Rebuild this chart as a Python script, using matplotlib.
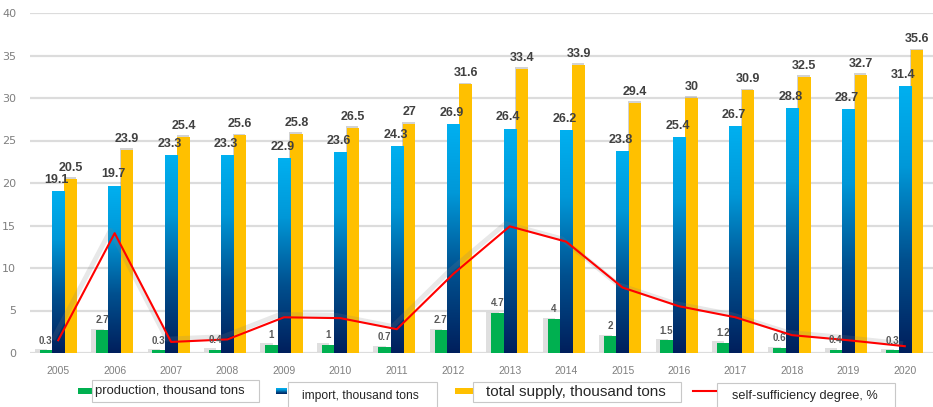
import numpy as np
import matplotlib
matplotlib.use("Agg")
import matplotlib.pyplot as plt
import matplotlib.patheffects as pe
from matplotlib.colors import LinearSegmentedColormap
from matplotlib.patches import Rectangle
from matplotlib.lines import Line2D

# ---- data ----
years = [str(y) for y in range(2005, 2021)]
production = [0.3, 2.7, 0.3, 0.4, 1, 1, 0.7, 2.7, 4.7, 4, 2, 1.5, 1.2, 0.6, 0.4, 0.3]
imports = [19.1, 19.7, 23.3, 23.3, 22.9, 23.6, 24.3, 26.9, 26.4, 26.2, 23.8, 25.4, 26.7, 28.8, 28.7, 31.4]
total_supply = [20.5, 23.9, 25.4, 25.6, 25.8, 26.5, 27, 31.6, 33.4, 33.9, 29.4, 30, 30.9, 32.5, 32.7, 35.6]
self_sufficiency = [1.5, 14.1, 1.3, 1.6, 4.2, 4.1, 2.8, 9.3, 14.9, 13.1, 7.7, 5.5, 4.2, 2.1, 1.5, 0.8]

legend_labels = ["production, thousand tons", "import, thousand tons",
                 "total supply, thousand tons", "self-sufficiency degree, %"]

GREEN = "#00B050"
GOLD = "#FFC000"
RED = "#FF0000"
LABEL_GRAY = "#404040"
TICK_GRAY = "#7F7F7F"
blue_cmap = LinearSegmentedColormap.from_list(
    "imp", [(0.0, "#001F5C"), (0.35, "#00508F"), (0.7, "#0098D8"), (1.0, "#00B0F0")])

W, H = 933, 407
fig = plt.figure(figsize=(W / 100, H / 100), dpi=100)
ax = fig.add_axes([30 / W, (H - 353) / H, 1 - 30 / W, (353 - 13) / H])

x = np.arange(len(years))
bw = 0.22

# gridlines
ax.set_yticks(np.arange(0, 41, 5))
ax.yaxis.grid(True, color="#DCDCDC", linewidth=1.6)
ax.set_axisbelow(True)
for s in ax.spines.values():
    s.set_visible(False)

shadow = [pe.SimplePatchShadow(offset=(-3.5, 1), shadow_rgbFace="#808080", alpha=0.25), pe.Normal()]
cap_shadow = [pe.SimplePatchShadow(offset=(-0.5, 1.2), shadow_rgbFace="#808080", alpha=0.35), pe.Normal()]

g_bars = ax.bar(x - bw, production, bw, color=GREEN, zorder=2, path_effects=shadow)
b_bars = ax.bar(x, imports, bw, color="none", zorder=2)
y_bars = ax.bar(x + bw, total_supply, bw, color=GOLD, zorder=2, path_effects=cap_shadow)

# gradient fill for the import bars
grad = np.linspace(0, 1, 256).reshape(-1, 1)
for r in b_bars:
    x0, h = r.get_x(), r.get_height()
    im = ax.imshow(grad, extent=[x0, x0 + r.get_width(), 0, h], origin="lower",
                   aspect="auto", cmap=blue_cmap, zorder=2.1)
    im.set_clip_path(r)

# self-sufficiency line with soft shadow
ax.plot(x, self_sufficiency, color=RED, linewidth=1.5, zorder=4,
        path_effects=[pe.SimpleLineShadow(offset=(-3, 2), shadow_color="#808080", alpha=0.18,
                                          linewidth=3.5), pe.Normal()])

# value labels
for i in range(len(years)):
    ax.annotate(f"{production[i]:g}", (x[i] - bw, production[i]), xytext=(0, 7),
                textcoords="offset points", ha="center", va="center", fontsize=7,
                fontweight="bold", color="#595959", family="Liberation Sans", zorder=5)
    ax.annotate(f"{imports[i]:g}", (x[i], imports[i]), xytext=(-1, 8),
                textcoords="offset points", ha="center", va="center", fontsize=9,
                fontweight="bold", color=LABEL_GRAY, family="Liberation Sans", zorder=5)
    ax.annotate(f"{total_supply[i]:g}", (x[i] + bw, total_supply[i]), xytext=(0, 8),
                textcoords="offset points", ha="center", va="center", fontsize=9,
                fontweight="bold", color=LABEL_GRAY, family="Liberation Sans", zorder=5)

ax.set_xlim(-0.5, len(years) - 0.5)
ax.set_ylim(0, 40)
ax.set_xticks(x)
ax.set_xticklabels(years, fontsize=7.5, color=TICK_GRAY, family="Liberation Sans")
ax.set_yticklabels([str(v) for v in range(0, 41, 5)], fontsize=8, color=TICK_GRAY,
                   family="DejaVu Sans")
ax.tick_params(axis="both", length=0)
ax.tick_params(axis="x", pad=9)
ax.tick_params(axis="y", pad=10)

# ---- legend: marker + boxed label for each series ----
def fx(px):
    return px / W


def fy(py):
    return 1 - py / H


def legend_box(x0, y0, x1, y1, tx, text, size):
    fig.add_artist(Rectangle((fx(x0), fy(y1)), fx(x1 - x0), (y1 - y0) / H,
                             transform=fig.transFigure, facecolor="white",
                             edgecolor="#C8C8C8", linewidth=0.8))
    fig.text(fx(tx), fy((y0 + y1) / 2), text, fontsize=size, color="#262626",
             ha="left", va="center", family="Liberation Sans")


fig.add_artist(Rectangle((fx(78), fy(394)), fx(14), 6 / H, transform=fig.transFigure,
                         facecolor=GREEN, edgecolor="none"))
legend_box(92, 380, 259, 402, 95, legend_labels[0], 9.4)

leg_grad = fig.add_axes([fx(276), fy(394), fx(11), 6 / H])
leg_grad.imshow(grad, origin="lower", aspect="auto", cmap=blue_cmap)
leg_grad.axis("off")
legend_box(288, 382, 437, 410, 302, legend_labels[1], 8.7)

fig.add_artist(Rectangle((fx(455), fy(394)), fx(18), 6 / H, transform=fig.transFigure,
                         facecolor=GOLD, edgecolor="none"))
legend_box(473, 382, 681, 402, 486, legend_labels[2], 11)

fig.add_artist(Line2D([fx(693), fx(716)], [fy(391), fy(391)], transform=fig.transFigure,
                      color=RED, linewidth=1.5))
legend_box(717, 383, 895, 410, 732, legend_labels[3], 9.2)

fig.savefig("out.png", dpi=100)
